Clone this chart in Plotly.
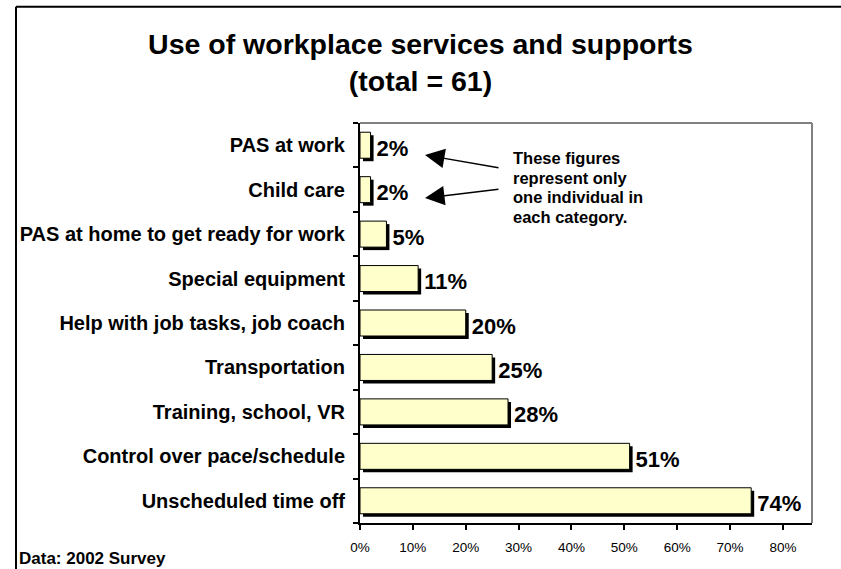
import plotly.graph_objects as go

# Survey results, listed from the bottom bar to the top bar
services = [
    "Unscheduled time off",
    "Control over pace/schedule",
    "Training, school, VR",
    "Transportation",
    "Help with job tasks, job coach",
    "Special equipment",
    "PAS at home to get ready for work",
    "Child care",
    "PAS at work",
]
percent_used = [74, 51, 28, 25, 20, 11, 5, 2, 2]

x_ticks = [0, 10, 20, 30, 40, 50, 60, 70, 80]
x_tick_labels = [f"{v}%" for v in x_ticks]
value_labels = [f"{v}%" for v in percent_used]

title_lines = ["Use of workplace services and supports", "(total = 61)"]
note_lines = ["These figures", "represent only", "one individual in", "each category."]
source_note = "Data: 2002 Survey"

FONT = "Liberation Sans, Arial, sans-serif"
W, H = 841, 569
ML, MR, MT, MB = 360, 29, 123, 46
PW, PH = W - ML - MR, H - MT - MB
X_MAX = 85.5

BAR_W = 0.585
px_per_unit_x = PW / X_MAX
px_per_cat = PH / len(services)
shadow_dx = 3 / px_per_unit_x
shadow_dy = 3 / px_per_cat


def px_to_paper_x(px):
    return (px - ML) / PW


def px_to_paper_y(py):
    return (H - MB - py) / PH


fig = go.Figure()

# drop shadow behind each bar; the value label sits just past the shadow
fig.add_trace(go.Bar(
    y=services, x=percent_used, orientation="h",
    base=shadow_dx, width=BAR_W, offset=-BAR_W / 2 - shadow_dy,
    marker=dict(color="black", line=dict(width=0)),
    text=value_labels, texttemplate="%{text}",
    textposition="outside", constraintext="none",
    textfont=dict(family=FONT, size=22, color="black", weight="bold"),
    cliponaxis=False, hoverinfo="skip", showlegend=False,
))

# main bars
fig.add_trace(go.Bar(
    y=services, x=percent_used, orientation="h",
    width=BAR_W, offset=-BAR_W / 2,
    marker=dict(color="#FFFFCC", line=dict(color="black", width=1)),
    showlegend=False,
))

fig.update_layout(
    width=W, height=H,
    margin=dict(l=ML, r=MR, t=MT, b=MB),
    paper_bgcolor="white", plot_bgcolor="white",
    barmode="overlay",
    title=dict(
        text="<br>".join(title_lines),
        x=0.5, xref="container", xanchor="center",
        y=1 - 54 / H, yref="container", yanchor="middle",
        font=dict(family=FONT, size=28.5, color="black", weight="bold"),
    ),
    xaxis=dict(
        range=[0, X_MAX], tickmode="array",
        tickvals=x_ticks, ticktext=x_tick_labels,
        showgrid=False, zeroline=False,
        showline=True, linecolor="black", linewidth=2,
        ticks="outside", ticklen=5, tickwidth=2, tickcolor="black",
        tickfont=dict(family=FONT, size=13.5, color="black"),
        ticklabelstandoff=6,
    ),
    yaxis=dict(
        type="category", categoryorder="array", categoryarray=services,
        range=[-0.5, len(services) - 0.5],
        showgrid=False, zeroline=False,
        showline=True, linecolor="black", linewidth=2,
        ticks="outside", ticklen=5, tickwidth=2, tickcolor="black",
        tickson="boundaries",
        tickfont=dict(family=FONT, size=20, color="black", weight="bold"),
        ticklabelstandoff=9,
    ),
)

shapes = [
    # grey frame on the top and right of the plot area
    dict(type="line", xref="paper", yref="paper", x0=0, x1=1, y0=1, y1=1,
         line=dict(color="#808080", width=2)),
    dict(type="line", xref="paper", yref="paper", x0=1, x1=1, y0=0, y1=1,
         line=dict(color="#808080", width=2)),
    # outer border of the slide: top and left edges
    dict(type="line", xref="paper", yref="paper",
         x0=px_to_paper_x(16), x1=px_to_paper_x(W + 20),
         y0=px_to_paper_y(6.7), y1=px_to_paper_y(6.7),
         line=dict(color="black", width=2)),
    dict(type="line", xref="paper", yref="paper",
         x0=px_to_paper_x(16), x1=px_to_paper_x(16),
         y0=px_to_paper_y(6.7), y1=px_to_paper_y(H + 20),
         line=dict(color="black", width=2)),
]
fig.update_layout(shapes=shapes)

annotations = []
note_y = [158, 177.5, 197, 216.5]
for line, py in zip(note_lines, note_y):
    annotations.append(dict(
        text=line, xref="paper", yref="paper",
        x=px_to_paper_x(511), y=px_to_paper_y(py),
        xanchor="left", yanchor="middle", showarrow=False,
        font=dict(family=FONT, size=16.5, color="black", weight="bold"),
    ))

# arrows pointing at the two single-person categories
for head_y, tail_dy in [(155, 13), (198, -9)]:
    annotations.append(dict(
        text="", xref="paper", yref="paper",
        x=px_to_paper_x(425), y=px_to_paper_y(head_y),
        ax=75, ay=tail_dy, axref="pixel", ayref="pixel",
        showarrow=True, arrowhead=2, arrowsize=2.6, arrowwidth=1.5,
        arrowcolor="black",
    ))

annotations.append(dict(
    text=source_note, xref="paper", yref="paper",
    x=px_to_paper_x(17), y=px_to_paper_y(558),
    xanchor="left", yanchor="middle", showarrow=False,
    font=dict(family=FONT, size=17, color="black", weight="bold"),
))
fig.update_layout(annotations=annotations)

fig.write_html("out.html")
